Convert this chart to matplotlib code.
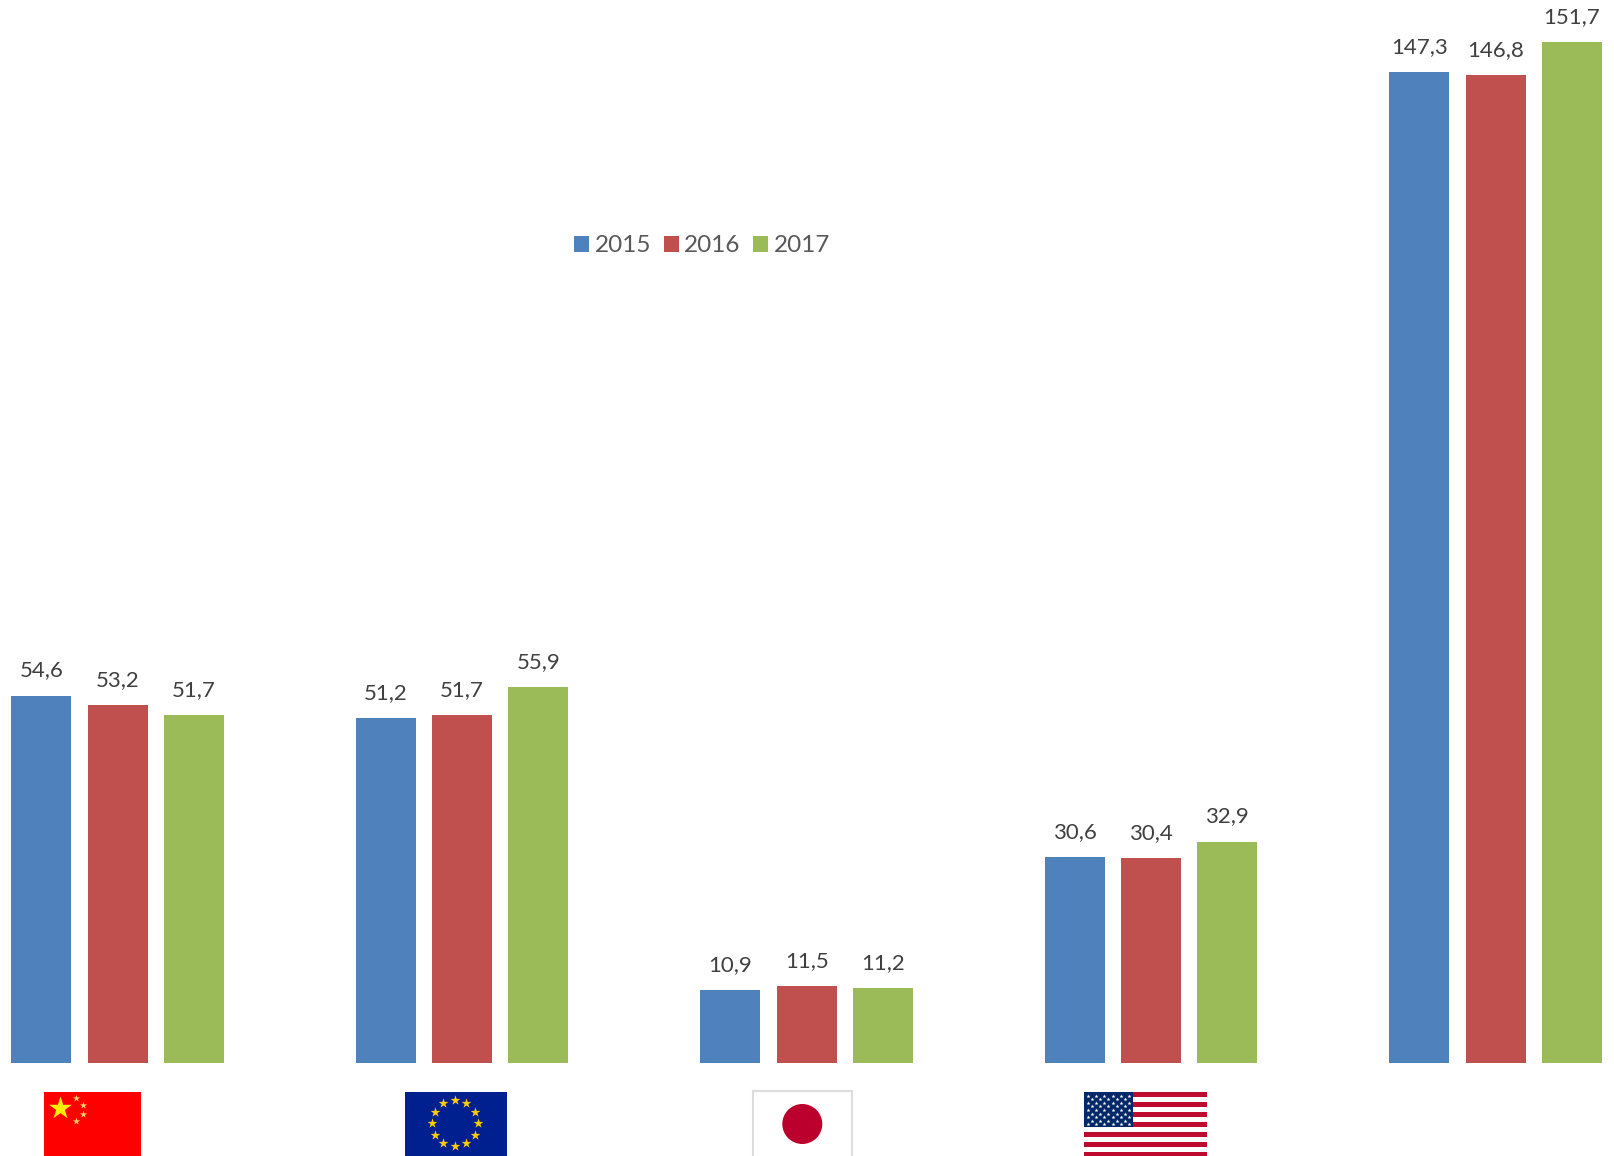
import numpy as np
import matplotlib
matplotlib.use("Agg")
import matplotlib.pyplot as plt
from matplotlib.patches import Rectangle, Circle

regions = ["China", "EU", "Japan", "USA", "World"]
years = ["2015", "2016", "2017"]
v2015 = [54.6, 51.2, 10.9, 30.6, 147.3]
v2016 = [53.2, 51.7, 11.5, 30.4, 146.8]
v2017 = [51.7, 55.9, 11.2, 32.9, 151.7]
colors = ["#4F81BD", "#C0504D", "#9BBB59"]

W, H = 1614, 1156
plt.rcParams['font.family'] = ['Lato', 'DejaVu Sans']
fig = plt.figure(figsize=(W / 100, H / 100), dpi=100, facecolor='white')

base = 1063
spacing = 344.5
ax = fig.add_axes([0, (H - base) / H, 1, base / H])
ax.set_xlim(-117.6 / spacing, (W - 117.6) / spacing)
ax.set_ylim(0, base / 6.73)
ax.axis('off')

x = np.arange(len(regions))
step = 76.2 / spacing
width = 60 / spacing
for i, (yr, vals, c) in enumerate(zip(years, [v2015, v2016, v2017], colors)):
    bars = ax.bar(x + (i - 1) * step, vals, width, color=c, label=yr)
    for b, v in zip(bars, vals):
        ax.annotate(f"{v:.1f}".replace('.', ','),
                    (b.get_x() + b.get_width() / 2, v),
                    xytext=(0, 25), textcoords='offset pixels',
                    ha='center', va='center', fontsize=16, color='#404040',
                    annotation_clip=False)

leg = ax.legend(loc='center', bbox_to_anchor=(702 / W, 1 - 246 / base), ncol=3,
                frameon=False, fontsize=17.5, labelcolor='#595959',
                handlelength=0.62, handleheight=0.62, handletextpad=0.23,
                columnspacing=0.5, borderpad=0)

# Flags, drawn on a pixel-scaled overlay
fl = fig.add_axes([0, 0, 1, 1], zorder=3)
fl.set_xlim(0, W)
fl.set_ylim(H, 0)
fl.axis('off')
fl.patch.set_alpha(0)

# China
fl.add_patch(Rectangle((44, 1092), 97, 64, color='#FF0000', lw=0))
fl.scatter([60], [1108], marker='*', s=300, color='#FFEE00', linewidths=0)
fl.scatter([76, 83, 83, 76], [1098, 1105, 1114, 1121], marker='*', s=30,
           color='#FFD060', linewidths=0)

# EU
fl.add_patch(Rectangle((405, 1092), 102, 64, color='#00208F', lw=0))
ang = np.deg2rad(np.arange(0, 360, 30))
fl.scatter(454.8 + 23 * np.cos(ang), 1123 + 23 * np.sin(ang), marker='*', s=55,
           color='#FFCC00', linewidths=0)

# Japan
fl.add_patch(Rectangle((753, 1091), 99, 70, facecolor='white', edgecolor='#DDDDDD', lw=1.5))
fl.add_patch(Circle((802.3, 1124), 20, color='#BC002D', lw=0))

# USA
for k in range(7):
    fl.add_patch(Rectangle((1084, 1092 + 10 * k), 123, 5, color='#BF0A30', lw=0))
fl.add_patch(Rectangle((1084, 1092), 49, 35, color='#002868', lw=0))
sx, sy = [], []
for r in range(9):
    n = 6 if r % 2 == 0 else 5
    x0 = 1088 if r % 2 == 0 else 1092
    for c in range(n):
        sx.append(x0 + c * 8.2)
        sy.append(1095.5 + r * 3.6)
fl.scatter(sx, sy, marker='*', s=9, color='white', linewidths=0)

fig.savefig("out.png", dpi=100, facecolor='white')
